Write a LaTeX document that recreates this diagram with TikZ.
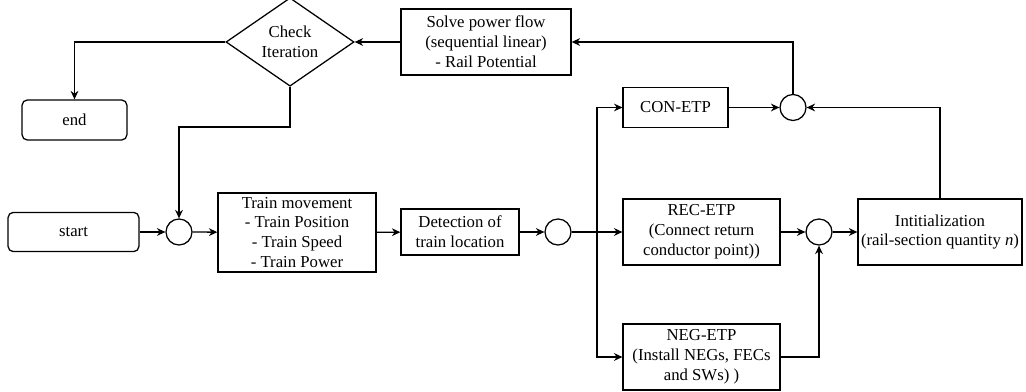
\documentclass[tikz,border=0pt]{standalone}
\usepackage{fontspec}
\setmainfont{Liberation Serif}
\usetikzlibrary{shapes.geometric,arrows.meta}

\tikzset{
    block/.style={draw, rectangle, align=center, inner sep=1pt},
    terminal/.style={draw, rectangle, rounded corners=0.13cm, align=center},
    junction/.style={draw, circle, minimum size=0.65cm, inner sep=0pt},
    decision/.style={draw, diamond, align=center, inner sep=0pt},
    flow/.style={-{Stealth[length=6pt, width=5.5pt]}}
}

\begin{document}
\begin{tikzpicture}[x=0.025cm, y=-0.025cm, line width=0.9pt,
        font=\fontsize{11.9}{14.2}\selectfont]
            \useasboundingbox (0,0) rectangle (1026,392);

            \node[decision, minimum width=3.2cm, minimum height=1.63cm] (check) at (290,42) {Check\\Iteration};
            \node[block, minimum width=4.25cm, minimum height=1.65cm] (solve) at (486,42) {Solve power flow\\(sequential linear)\\- Rail Potential};
            \node[terminal, minimum width=2.62cm, minimum height=1cm] (finish) at (74.5,120) {end};

            \node[terminal, minimum width=3.27cm, minimum height=0.98cm] (start) at (73.5,232) {start};
            \node[junction] (J1) at (179,232) {};
            \node[block, minimum width=3.95cm, minimum height=1.97cm] (train) at (297,232.5) {Train movement\\- Train Position\\- Train Speed\\- Train Power};
            \node[block, minimum width=2.95cm, minimum height=1.15cm] (detect) at (460,232) {Detection of\\train location};
            \node[junction] (J2) at (558,232) {};
            \coordinate (split) at (597,232);

            \node[block, minimum width=2.62cm, minimum height=1cm] (con) at (675.5,107.5) {CON-ETP};
            \node[block, minimum width=3.92cm, minimum height=1.65cm] (rec) at (701.5,232) {REC-ETP\\(Connect return\\conductor point))};
            \node[block, minimum width=3.92cm, minimum height=1.65cm] (neg) at (701.5,357) {NEG-ETP\\(Install NEGs, FECs\\and SWs) )};

            \node[junction] (J3) at (793,107.5) {};
            \node[junction] (J4) at (819,232) {};
            \node[block, minimum width=4.1cm, minimum height=1.65cm] (init) at (940,232) {Intitialization\\(rail-section quantity \textit{n})};

            \draw[flow] (start) -- (J1);
            \draw[flow] (J1) -- (train);
            \draw[flow] (train) -- (detect);
            \draw[flow] (detect) -- (J2);
            \draw[flow] (J2) -- (rec);
            \draw[flow] (split) |- (con.west);
            \draw[flow] (split) |- (neg.west);

            \draw[flow] (con) -- (J3);
            \draw[flow] (rec) -- (J4);
            \draw[flow] (neg.east) -| (J4.south);
            \draw[flow] (J4) -- (init);
            \draw[flow] (init.north) |- (J3.east);

            \draw[flow] (J3.north) |- (solve.east);
            \draw[flow] (solve) -- (check);
            \draw[flow] (check.west) -| (finish.north);
            \draw[flow] (check.south) |- (179,127) -- (J1.north);
        \end{tikzpicture}
\end{document}
